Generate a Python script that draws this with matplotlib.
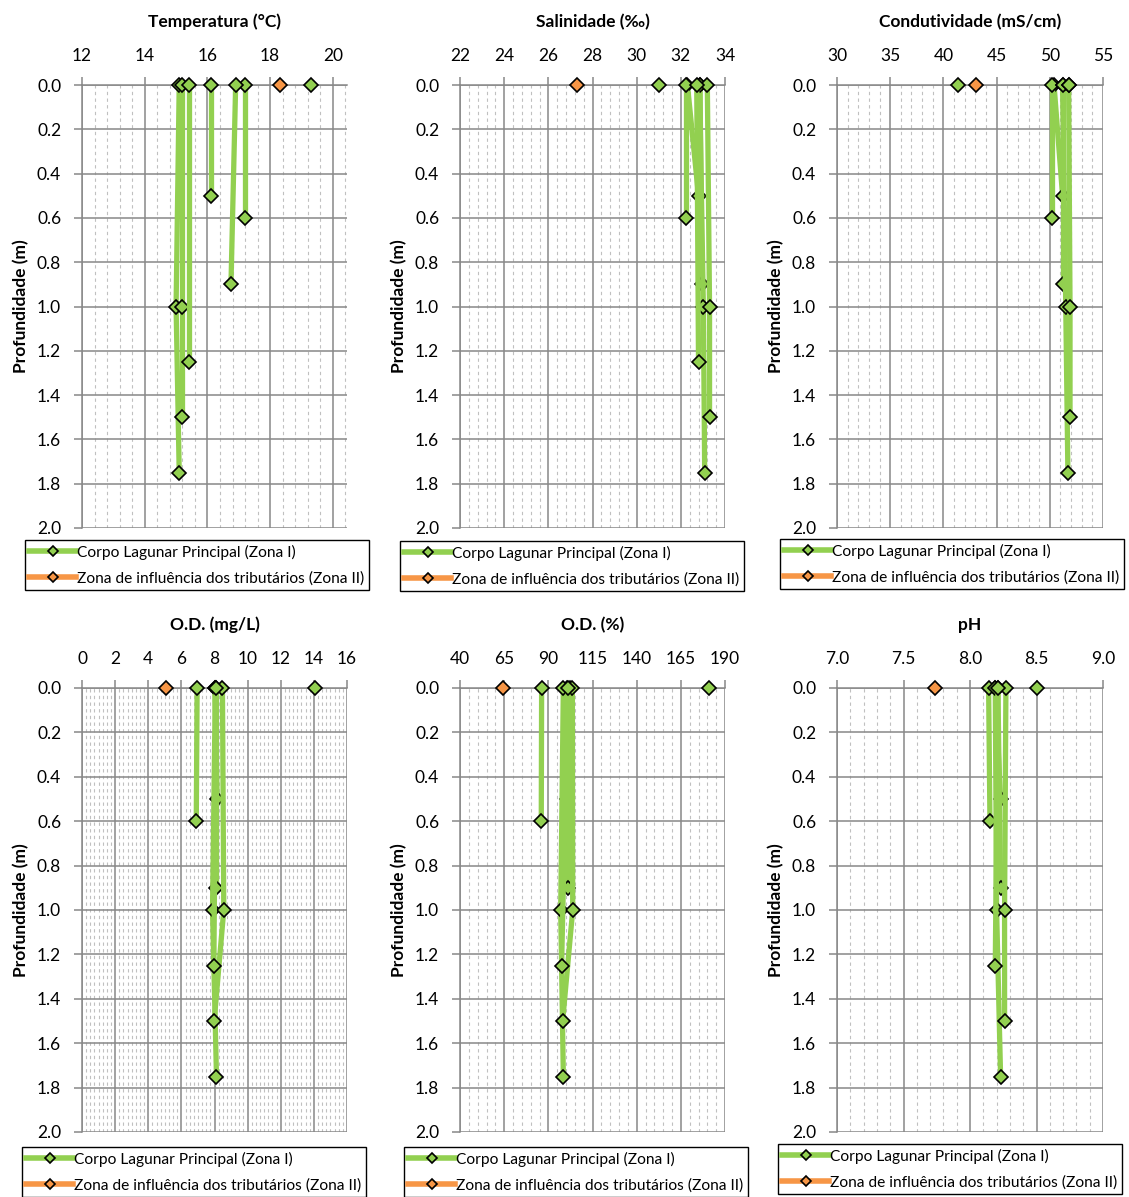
import numpy as np
import matplotlib
matplotlib.use("Agg")
import matplotlib.pyplot as plt
from matplotlib.lines import Line2D
from matplotlib.ticker import MultipleLocator, FormatStrFormatter

plt.rcParams['font.family'] = ['Lato', 'DejaVu Sans']

GREEN = '#92D050'
ORANGE = '#F79646'
GRID = '#888888'
MINOR = '#C0C0C0'

# depths sampled at each station of the main lagoon body (Zona I)
station_depths = [
    [0.0, 0.5],
    [0.0, 0.6],
    [0.0, 0.9],
    [0.0, 1.0, 1.75],
    [0.0, 1.0, 1.5],
    [0.0, 1.25],
    [0.0],
]

# Zona I profiles, one list per station (same order as station_depths)
temperatura = [[16.1, 16.1], [17.2, 17.2], [16.9, 16.75], [15.1, 15.0, 15.1],
               [15.2, 15.2, 15.2], [15.4, 15.4], [19.3]]
salinidade = [[32.3, 32.8], [32.22, 32.22], [32.87, 32.95], [32.85, 33.02, 33.08],
              [33.2, 33.3, 33.3], [32.72, 32.8], [31.0]]
condutividade = [[50.4, 51.2], [50.2, 50.2], [51.2, 51.2], [51.2, 51.5, 51.7],
                 [51.77, 51.9, 51.9], [51.8, np.nan], [41.4]]
od_mg = [[8.02, 8.16], [6.95, 6.9], [8.12, 8.12], [8.05, 7.88, 8.12],
         [8.48, 8.56, 7.98], [8.1, 7.96], [14.04]]
od_pct = [[100.4, 100.4], [86.2, 86.0], [102.3, 101.3], [98.5, 97.0, 98.5],
          [103.6, 103.8, 98.1], [101.0, 97.5], [181.1]]
ph = [[8.19, 8.23], [8.14, 8.15], [8.21, 8.23], [8.19, 8.2, 8.23],
      [8.27, 8.26, 8.26], [8.21, 8.19], [8.5]]

# tributaries influence zone (Zona II), surface only
temperatura_z2 = 18.3
salinidade_z2 = 27.3
condutividade_z2 = 43.06
od_mg_z2 = 5.09
od_pct_z2 = 64.2
ph_z2 = 7.74

labels = ["Corpo Lagunar Principal (Zona I)",
          "Zona de influência dos tributários (Zona II)"]

# title, zona I, zona II, xmin, xmax, last labelled tick, major, minor, tick format
panels = [
    ("Temperatura (°C)", temperatura, temperatura_z2, 12, 20.45, 20, 2, 0.4, '%d'),
    ("Salinidade (‰)", salinidade, salinidade_z2, 22, 34, 34, 2, 0.4, '%d'),
    ("Condutividade (mS/cm)", condutividade, condutividade_z2, 30, 55, 55, 5, 1, '%d'),
    ("O.D. (mg/L)", od_mg, od_mg_z2, 0, 16, 16, 2, 0.25, '%d'),
    ("O.D. (%)", od_pct, od_pct_z2, 40, 190, 190, 25, 5, '%d'),
    ("pH", ph, ph_z2, 7.0, 9.0, 9.0, 0.5, 0.1, '%.1f'),
]

W, H = 1129, 1197
fig = plt.figure(figsize=(W / 100, H / 100), dpi=100)

col_left = [82, 460, 837]
col_width = [265, 265, 266]
row_top = [85, 688]
row_height = [443, 444]
legend_pos = [(197, 540), (572, 541), (952, 539),
              (194, 1147), (576, 1147), (950, 1144)]

marker_style = dict(marker='D', ms=7, mec='black', mew=1.2)

for i, (title, zona1, zona2, xmin, xmax, xlast, major, minor, fmt) in enumerate(panels):
    r, c = divmod(i, 3)
    ax = fig.add_axes([col_left[c] / W, 1 - (row_top[r] + row_height[r]) / H,
                       col_width[c] / W, row_height[r] / H])

    ax.set_xticks(np.arange(xmin, xlast + major / 2, major))
    ax.set_xlim(xmin, xmax)
    ax.set_ylim(2.0, 0.0)
    ax.xaxis.set_minor_locator(MultipleLocator(minor))
    ax.xaxis.set_major_formatter(FormatStrFormatter(fmt))
    ax.yaxis.set_major_locator(MultipleLocator(0.2))
    ax.yaxis.set_major_formatter(FormatStrFormatter('%.1f'))
    ax.xaxis.tick_top()

    ax.grid(which='major', color=GRID, lw=1.1)
    ax.grid(which='minor', axis='x', color=MINOR, lw=0.8, ls=(0, (3, 3)))
    ax.set_axisbelow(True)

    for side in ['right', 'bottom']:
        ax.spines[side].set_visible(False)
    for side in ['top', 'left']:
        ax.spines[side].set_color(GRID)
        ax.spines[side].set_linewidth(1.1)

    ax.tick_params(which='major', direction='out', length=6, width=1.1,
                   color=GRID, labelsize=12.5, pad=9)
    ax.tick_params(which='minor', length=0)

    for depths, values in zip(station_depths, zona1):
        ax.plot(values, depths, color=GREEN, lw=3.8, mfc=GREEN,
                clip_on=False, zorder=3, **marker_style)
    ax.plot([zona2], [0.0], color=ORANGE, lw=3.8, mfc=ORANGE,
            clip_on=False, zorder=3, **marker_style)

    ax.text(0.5, 1.142, title, transform=ax.transAxes, ha='center',
            va='center', fontsize=12.5, fontweight='bold')
    ax.set_ylabel("Profundidade (m)", fontsize=12.5, fontweight='bold')
    ax.yaxis.set_label_coords(-0.2, 0.5)

    handles = [
        Line2D([], [], color=GREEN, lw=4, marker='D', ms=5, mfc=GREEN,
               mec='black', mew=1.2),
        Line2D([], [], color=ORANGE, lw=4, marker='D', ms=5, mfc=ORANGE,
               mec='black', mew=1.2),
    ]
    lx, ly = legend_pos[i]
    leg = fig.legend(handles, labels, loc='upper center',
                     bbox_to_anchor=(lx / W, 1 - ly / H), fontsize=11.2,
                     frameon=True, fancybox=False, edgecolor='black',
                     framealpha=1, borderpad=0.3, handlelength=3.0,
                     handletextpad=0.1, labelspacing=0.75, borderaxespad=0)
    leg.get_frame().set_linewidth(1.0)

fig.savefig("out.png", dpi=100)
